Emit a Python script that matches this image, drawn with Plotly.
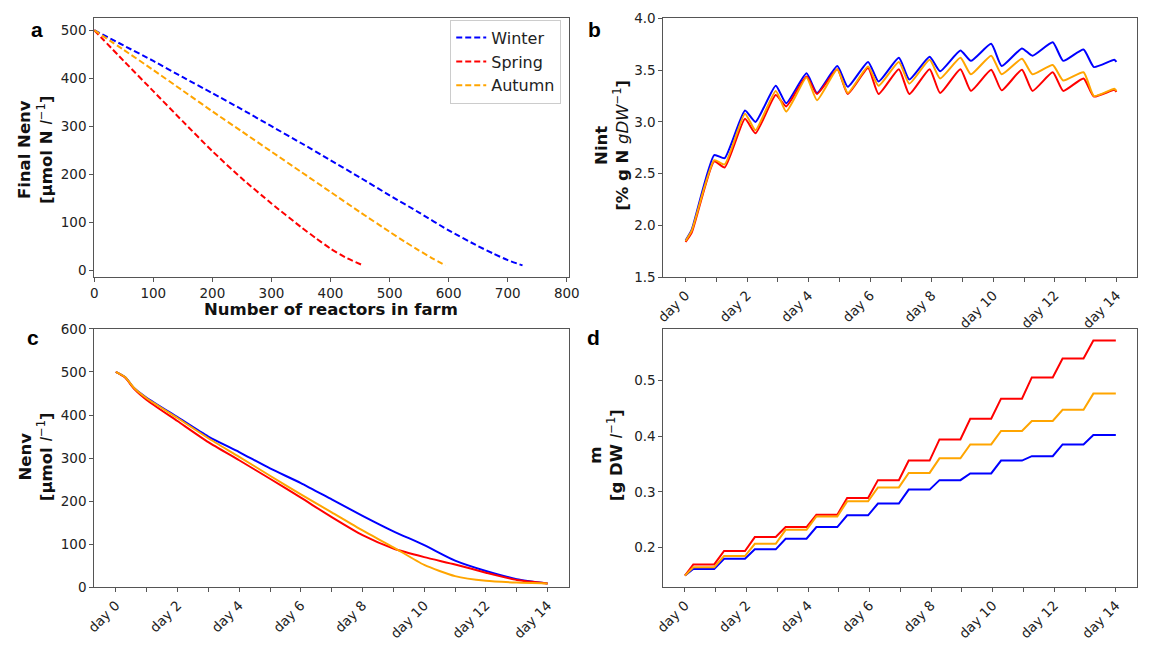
import plotly.graph_objects as go

# ---------------- data ----------------
seasons = ["Winter", "Spring", "Autumn"]
colors = {"Winter": "#0000ff", "Spring": "#ff0000", "Autumn": "#ffa500"}

# panel a: final Nenv vs number of reactors
winter_a_x = [0, 50, 100, 150, 200, 250, 300, 350, 400, 450, 500, 550, 600, 650, 675, 700, 725]
winter_a_y = [500, 468, 436, 402, 369, 335, 300, 265, 229, 193, 156, 120, 83, 50, 35, 21, 10]
spring_a_x = [0, 50, 100, 150, 200, 250, 300, 350, 375, 400, 425, 455]
spring_a_y = [500, 436, 373, 310, 248, 191, 139, 90, 67, 45, 27, 10]
autumn_a_x = [0, 50, 100, 150, 200, 250, 300, 350, 400, 450, 500, 525, 550, 575, 595]
autumn_a_y = [500, 459, 417, 374, 331, 289, 247, 205, 163, 121, 80, 60, 41, 23, 10]

# panel b: Nint over days
b_t = [0, 0.2, 0.93, 1.27, 1.93, 2.27, 2.93, 3.27, 3.93, 4.27, 4.93, 5.27, 5.93, 6.27,
       6.93, 7.27, 7.93, 8.27, 8.93, 9.27, 9.93, 10.27, 10.93, 11.27, 11.93, 12.27,
       12.93, 13.27, 13.93, 14.0]
winter_b = [1.855, 1.96, 2.68, 2.65, 3.11, 3.00, 3.35, 3.18, 3.47, 3.28, 3.54, 3.34, 3.58, 3.39,
            3.62, 3.41, 3.63, 3.49, 3.69, 3.59, 3.755, 3.54, 3.71, 3.64, 3.77, 3.59,
            3.70, 3.53, 3.60, 3.58]
spring_b = [1.84, 1.93, 2.62, 2.56, 3.03, 2.89, 3.26, 3.15, 3.44, 3.27, 3.51, 3.27, 3.52, 3.27,
            3.51, 3.27, 3.51, 3.28, 3.51, 3.30, 3.505, 3.305, 3.505, 3.30, 3.48, 3.30,
            3.42, 3.245, 3.31, 3.29]
autumn_b = [1.85, 1.95, 2.63, 2.59, 3.08, 2.92, 3.30, 3.10, 3.43, 3.21, 3.51, 3.28, 3.535, 3.35,
            3.58, 3.37, 3.60, 3.42, 3.62, 3.46, 3.64, 3.46, 3.61, 3.46, 3.55, 3.40,
            3.48, 3.25, 3.32, 3.30]

# panel c: Nenv over days
c_t = [0, 0.3, 0.6, 1, 2, 3, 4, 5, 6, 7, 8, 9, 10, 11, 12, 13, 14]
winter_c = [500, 488, 462, 440, 395, 350, 314, 276, 242, 204, 166, 130, 98, 62, 38, 19, 9]
spring_c = [500, 487, 460, 435, 386, 337, 295, 252, 208, 163, 121, 90, 70, 53, 34, 17, 9]
autumn_c = [500, 488, 462, 439, 393, 346, 303, 259, 216, 174, 132, 93, 52, 26, 15, 11, 9]

# panel d: biomass m over days (step plateaus)
d_t = [0, 0.27, 0.95, 1.27, 1.95, 2.27, 2.95, 3.27, 3.95, 4.27, 4.95, 5.27, 5.95, 6.27, 6.95,
       7.27, 7.95, 8.27, 8.95, 9.27, 9.95, 10.27, 10.95, 11.27, 11.95, 12.27, 12.95, 13.27, 14.0]
winter_d = [0.15, 0.162, 0.162, 0.180, 0.180, 0.197, 0.197, 0.216, 0.216, 0.237, 0.237,
            0.258, 0.258, 0.279, 0.279, 0.304, 0.304, 0.321, 0.321, 0.333, 0.333,
            0.356, 0.356, 0.364, 0.364, 0.385, 0.385, 0.402, 0.402]
spring_d = [0.15, 0.170, 0.170, 0.194, 0.194, 0.219, 0.219, 0.237, 0.237, 0.259, 0.259,
            0.289, 0.289, 0.321, 0.321, 0.356, 0.356, 0.394, 0.394, 0.431, 0.431,
            0.467, 0.467, 0.505, 0.505, 0.539, 0.539, 0.571, 0.571]
autumn_d = [0.15, 0.165, 0.165, 0.185, 0.185, 0.207, 0.207, 0.232, 0.232, 0.256, 0.256,
            0.283, 0.283, 0.308, 0.308, 0.334, 0.334, 0.360, 0.360, 0.385, 0.385,
            0.409, 0.409, 0.427, 0.427, 0.447, 0.447, 0.476, 0.476]

day_ticks = [0, 2, 4, 6, 8, 10, 12, 14]
day_labels = [f"day {d}" for d in day_ticks]

# ---------------- figure ----------------
W, H = 1151, 647
fig = go.Figure()

a_data = {"Winter": (winter_a_x, winter_a_y), "Spring": (spring_a_x, spring_a_y),
          "Autumn": (autumn_a_x, autumn_a_y)}
b_data = {"Winter": winter_b, "Spring": spring_b, "Autumn": autumn_b}
c_data = {"Winter": winter_c, "Spring": spring_c, "Autumn": autumn_c}
d_data = {"Winter": winter_d, "Spring": spring_d, "Autumn": autumn_d}

for s in seasons:
    fig.add_trace(go.Scatter(x=a_data[s][0], y=a_data[s][1], mode="lines", name=s,
                             line=dict(color=colors[s], width=2, dash="6px,3px", shape="spline", smoothing=0.6),
                             xaxis="x", yaxis="y", showlegend=True))
for s in seasons:
    fig.add_trace(go.Scatter(x=b_t, y=b_data[s], mode="lines", name=s,
                             line=dict(color=colors[s], width=2, shape="spline", smoothing=0.5),
                             xaxis="x2", yaxis="y2", showlegend=False))
for s in seasons:
    fig.add_trace(go.Scatter(x=c_t, y=c_data[s], mode="lines", name=s,
                             line=dict(color=colors[s], width=2, shape="spline", smoothing=0.6),
                             xaxis="x3", yaxis="y3", showlegend=False))
for s in seasons:
    fig.add_trace(go.Scatter(x=d_t, y=d_data[s], mode="lines", name=s,
                             line=dict(color=colors[s], width=2),
                             xaxis="x4", yaxis="y4", showlegend=False))

def px_x(p):
    return p / W

def px_y(p):
    return 1 - p / H

tickfont = dict(family="DejaVu Sans", size=13.5, color="#222222")
common = dict(showline=True, linecolor="#555555", linewidth=1, mirror=True, ticks="outside",
              ticklen=4, tickcolor="#555555", tickwidth=1, showgrid=False, zeroline=False,
              tickfont=tickfont)
day_minor = dict(tick0=0, dtick=1, ticks="outside", ticklen=4, tickcolor="#555555", tickwidth=1, showgrid=False)

left_dom = [px_x(86.7), px_x(569.5)]
right_dom = [px_x(666), px_x(1147.7)]
top_dom = [px_y(276), px_y(10.7)]
bot_dom = [px_y(594), px_y(329)]

fig.update_layout(
    width=W, height=H, margin=dict(l=0, r=0, t=0, b=0),
    paper_bgcolor="white", plot_bgcolor="white",
    xaxis=dict(domain=left_dom, anchor="y", range=[0, 803], tickvals=list(range(0, 801, 100)), **common),
    yaxis=dict(domain=top_dom, anchor="x", range=[-14.5, 524.5], tickvals=list(range(0, 501, 100)), **common),
    xaxis2=dict(domain=right_dom, anchor="y2", range=[-0.72, 14.66], tickvals=day_ticks,
                ticktext=day_labels, tickangle=-45, minor=day_minor, **common),
    yaxis2=dict(domain=top_dom, anchor="x2", range=[1.5, 4.0], tickvals=[1.5, 2.0, 2.5, 3.0, 3.5, 4.0],
                tickformat=".1f", **common),
    xaxis3=dict(domain=left_dom, anchor="y3", range=[-0.7, 14.68], tickvals=day_ticks,
                ticktext=day_labels, tickangle=-45, minor=day_minor, **common),
    yaxis3=dict(domain=bot_dom, anchor="x3", range=[0, 600], tickvals=list(range(0, 601, 100)), **common),
    xaxis4=dict(domain=right_dom, anchor="y4", range=[-0.7, 14.68], tickvals=day_ticks,
                ticktext=day_labels, tickangle=-45, minor=day_minor, **common),
    yaxis4=dict(domain=bot_dom, anchor="x4", range=[0.129, 0.592], tickvals=[0.2, 0.3, 0.4, 0.5],
                tickformat=".1f", **common),
    legend=dict(x=px_x(562), xanchor="right", y=px_y(12), yanchor="top",
                bgcolor="white", bordercolor="#cccccc", borderwidth=1,
                font=dict(family="DejaVu Sans", size=16, color="#222222")),
    showlegend=True,
)

title_font = dict(family="DejaVu Sans", size=16.5, color="#111111")
annos = [
    dict(text="<b>Final Nenv</b><br><b>[µmol N </b><i>l</i><sup>−1</sup><b>]</b>", x=px_x(27), y=px_y(146), textangle=-90),
    dict(text="<b>Number of reactors in farm</b>", x=px_x(328), y=px_y(309), textangle=0),
    dict(text="<b>Nint</b><br><b>[% g N </b><i>gDW</i><sup>−1</sup><b>]</b>", x=px_x(613), y=px_y(141), textangle=-90),
    dict(text="<b>Nenv</b><br><b>[µmol </b><i>l</i><sup>−1</sup><b>]</b>", x=px_x(27), y=px_y(460), textangle=-90),
    dict(text="<b>m</b><br><b>[g DW </b><i>l</i><sup>−1</sup><b>]</b>", x=px_x(607), y=px_y(458), textangle=-90),
]
for a in annos:
    fig.add_annotation(xref="paper", yref="paper", showarrow=False, xanchor="center", yanchor="middle",
                       font=title_font, **a)

letter_font = dict(family="Liberation Sans", size=21, color="black")
for txt, cx, top in [("a", 28, 8), ("b", 596, 8), ("c", 24, 324), ("d", 595, 324)]:
    fig.add_annotation(xref="paper", yref="paper", showarrow=False, text=f"<b>{txt}</b>",
                       x=px_x(cx), y=px_y(top), xanchor="center", yanchor="top", font=letter_font)

fig.write_html("out.html")
